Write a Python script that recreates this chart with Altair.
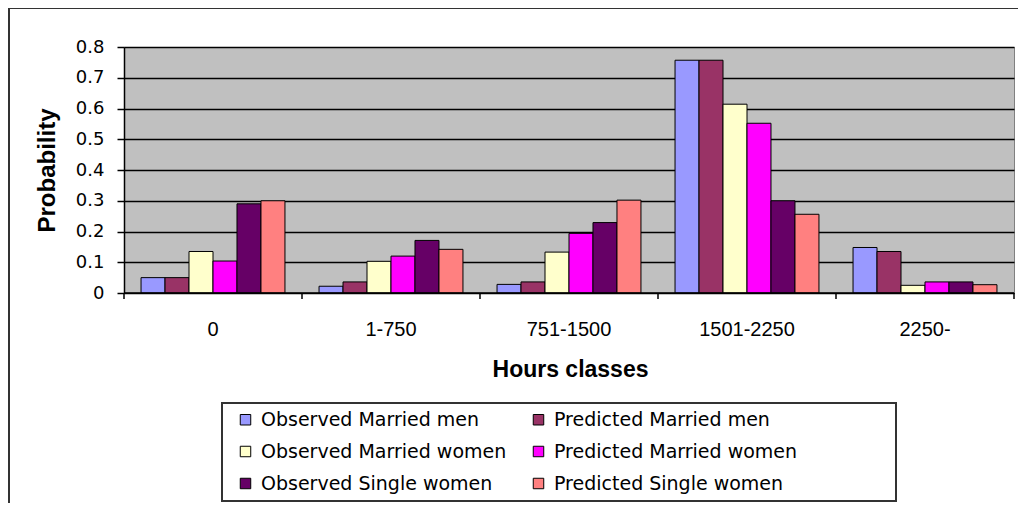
import altair as alt
import pandas as pd

categories = ["0", "1-750", "751-1500", "1501-2250", "2250-"]
series = [
    "Observed Married men",
    "Predicted Married men",
    "Observed Married women",
    "Predicted Married women",
    "Observed Single women",
    "Predicted Single women",
]
colors = ["#9999FF", "#993366", "#FFFFCC", "#FF00FF", "#660066", "#FF8080"]

obs_married_men = [0.05, 0.022, 0.028, 0.757, 0.148]
pred_married_men = [0.05, 0.036, 0.036, 0.757, 0.135]
obs_married_women = [0.135, 0.103, 0.133, 0.614, 0.025]
pred_married_women = [0.104, 0.12, 0.194, 0.552, 0.036]
obs_single_women = [0.29, 0.171, 0.229, 0.30, 0.036]
pred_single_women = [0.30, 0.142, 0.302, 0.256, 0.027]

values = [obs_married_men, pred_married_men, obs_married_women,
          pred_married_women, obs_single_women, pred_single_women]

rows = []
for s, vals in zip(series, values):
    for c, v in zip(categories, vals):
        rows.append({"cls": c, "series": s, "p": v})
df = pd.DataFrame(rows)

# legend is filled column by column: observed series first, then predicted
legend_order = series[0::2] + series[1::2]
legend_colors = colors[0::2] + colors[1::2]

W, H = 890, 246
FONT = "Liberation Sans"

xscale = alt.Scale(domain=categories, paddingInner=0, paddingOuter=0)

bars = alt.Chart(df).mark_bar(stroke="black", strokeWidth=1).encode(
    x=alt.X("cls:N", scale=xscale, sort=categories,
            axis=alt.Axis(title="Hours classes", labelAngle=0, ticks=False, tickSize=0,
                          labelPadding=26, labelFontSize=20, labelFont=FONT,
                          labelColor="black", domain=False,
                          titleFont=FONT, titleFontSize=23, titleFontWeight="bold",
                          titleColor="black", titleX=446, titleY=76,
                          titleBaseline="middle", titleAlign="center")),
    xOffset=alt.XOffset("series:N", sort=series,
                        scale=alt.Scale(domain=series, paddingInner=0, paddingOuter=0.71)),
    y=alt.Y("p:Q", scale=alt.Scale(domain=[0, 0.8], nice=False),
            axis=alt.Axis(title="Probability", values=[0, 0.1, 0.2, 0.3, 0.4, 0.5, 0.6, 0.7, 0.8],
                          format=".1~f", grid=True, gridColor="black", gridWidth=1.5,
                          domainColor="black", domainWidth=1.5, tickColor="black",
                          tickSize=7, tickWidth=1.5, labelPadding=13,
                          labelFont="DejaVu Sans", labelFontSize=18, labelColor="black",
                          titleFont=FONT, titleFontSize=24, titleFontWeight="bold",
                          titleColor="black", titleAngle=270, titleX=-77, titleY=123,
                          titleBaseline="middle", titleAlign="center")),
    color=alt.Color("series:N",
                    scale=alt.Scale(domain=legend_order, range=legend_colors),
                    legend=alt.Legend(title=None, orient="none", legendX=100, legendY=351,
                                      columns=2, columnPadding=22, rowPadding=12,
                                      symbolType="square", symbolSize=110,
                                      symbolStrokeColor="black", symbolStrokeWidth=1,
                                      symbolOpacity=1, labelOffset=6,
                                      labelFont="DejaVu Sans", labelFontSize=19,
                                      labelColor="black", labelLimit=400,
                                      padding=12)),
)

tick_df = pd.DataFrame({"cls": categories})
ticks0 = alt.Chart(tick_df).mark_rule(color="black", strokeWidth=1.5).encode(
    x=alt.X("cls:N", scale=xscale, sort=categories, bandPosition=0),
    y=alt.value(H),
    y2=alt.value(H + 6),
)
ticks1 = alt.Chart(pd.DataFrame({"cls": [categories[-1]]})).mark_rule(
    color="black", strokeWidth=1.5).encode(
    x=alt.X("cls:N", scale=xscale, sort=categories, bandPosition=1),
    y=alt.value(H),
    y2=alt.value(H + 6),
)
baseline = alt.Chart(pd.DataFrame({"a": [0]})).mark_rule(color="black", strokeWidth=1.5).encode(
    x=alt.value(0), x2=alt.value(W), y=alt.value(H)
)
# outer chart frame (top and left edges; the right and bottom edges lie outside the picture)
frame_top = alt.Chart(pd.DataFrame({"a": [0]})).mark_rule(
    color="#333333", strokeWidth=2, clip=False).encode(
    x=alt.value(-115), x2=alt.value(930), y=alt.value(-39)
)
frame_left = alt.Chart(pd.DataFrame({"a": [0]})).mark_rule(
    color="#333333", strokeWidth=2, clip=False).encode(
    x=alt.value(-115), y=alt.value(-39), y2=alt.value(490)
)
# legend frame
legend_box = alt.Chart(pd.DataFrame({"a": [0]})).mark_rect(
    fill="white", stroke="#333333", strokeWidth=2, clip=False).encode(
    x=alt.value(98), x2=alt.value(772), y=alt.value(356), y2=alt.value(454)
)

chart = alt.layer(legend_box, bars, baseline, ticks0, ticks1, frame_top, frame_left).properties(
    width=W, height=H,
    autosize=alt.AutoSizeParams(type="none"),
    padding={"left": 116, "top": 39, "right": 4, "bottom": 210},
    background="white",
).configure_view(fill="#C0C0C0", stroke="#808080", strokeWidth=1)

chart.save("out.html", embed_options={"renderer": "svg", "actions": False})
